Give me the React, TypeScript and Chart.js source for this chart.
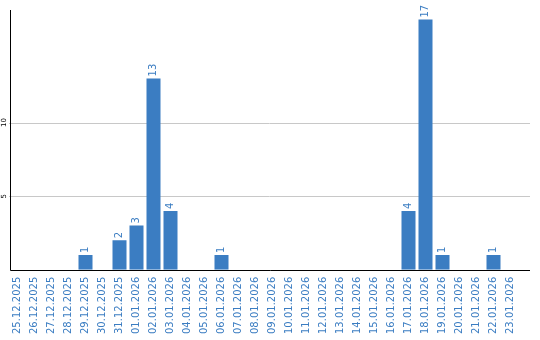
import React, { useEffect, useRef } from "react";
import { Chart, registerables } from "chart.js";

Chart.register(...registerables);

const categories = [
  "25.12.2025", "26.12.2025", "27.12.2025", "28.12.2025", "29.12.2025",
  "30.12.2025", "31.12.2025", "01.01.2026", "02.01.2026", "03.01.2026",
  "04.01.2026", "05.01.2026", "06.01.2026", "07.01.2026", "08.01.2026",
  "09.01.2026", "10.01.2026", "11.01.2026", "12.01.2026", "13.01.2026",
  "14.01.2026", "15.01.2026", "16.01.2026", "17.01.2026", "18.01.2026",
  "19.01.2026", "20.01.2026", "21.01.2026", "22.01.2026", "23.01.2026",
];
const counts = [
  0, 0, 0, 0, 1, 0, 2, 3, 13, 4,
  0, 0, 1, 0, 0, 0, 0, 0, 0, 0,
  0, 0, 0, 4, 17, 1, 0, 0, 1, 0,
];
const yTickValues = [5, 10];
const yMax = 17.65;

const BLUE = "#3b7dc2";
const FONT = "DejaVu Sans";

const decorPlugin = {
  id: "decor",
  beforeDatasetsDraw(chart: any) {
    const { ctx, chartArea } = chart;
    const y = chart.scales.y;
    ctx.save();
    ctx.strokeStyle = "#c8c8c8";
    ctx.lineWidth = 1;
    yTickValues.forEach((v) => {
      const py = Math.round(y.getPixelForValue(v)) + 0.5;
      ctx.beginPath();
      ctx.moveTo(chartArea.left, py);
      ctx.lineTo(chartArea.right + 11, py);
      ctx.stroke();
    });
    ctx.restore();
  },
  afterDatasetsDraw(chart: any) {
    const { ctx, chartArea } = chart;
    const y = chart.scales.y;
    ctx.save();
    ctx.strokeStyle = "#000";
    ctx.lineWidth = 1;
    const ax = Math.round(chartArea.left + 1) + 0.5;
    const by = Math.round(chartArea.bottom) + 0.5;
    ctx.beginPath();
    ctx.moveTo(ax, chartArea.top);
    ctx.lineTo(ax, by);
    ctx.lineTo(chartArea.right + 11, by);
    ctx.stroke();
    ctx.fillStyle = "#000";
    ctx.font = `7px ${FONT}`;
    ctx.textAlign = "center";
    ctx.textBaseline = "middle";
    yTickValues.forEach((v) => {
      const py = y.getPixelForValue(v);
      ctx.save();
      ctx.translate(ax - 6, py);
      ctx.rotate(-Math.PI / 2);
      ctx.fillText(String(v), 0, 0);
      ctx.restore();
    });
    const meta = chart.getDatasetMeta(0);
    ctx.fillStyle = BLUE;
    ctx.font = `10px ${FONT}`;
    ctx.textAlign = "left";
    ctx.textBaseline = "middle";
    meta.data.forEach((el: any, i: number) => {
      const v = counts[i];
      if (!v) return;
      ctx.save();
      ctx.translate(el.x, el.y - 2);
      ctx.rotate(-Math.PI / 2);
      ctx.fillText(String(v), 0, 0);
      ctx.restore();
    });
    ctx.restore();
  },
};

export default function App() {
  const ref = useRef<HTMLCanvasElement | null>(null);
  useEffect(() => {
    if (!ref.current) return;
    const chart = new Chart(ref.current, {
      type: "bar",
      data: {
        labels: categories,
        datasets: [
          {
            data: counts,
            backgroundColor: BLUE,
            borderWidth: 0,
            barPercentage: 14 / 17,
            categoryPercentage: 1,
          },
        ],
      },
      options: {
        responsive: false,
        animation: false,
        layout: { padding: { left: 9, top: 10, right: 21, bottom: -1 } },
        plugins: { legend: { display: false }, tooltip: { enabled: false } },
        scales: {
          x: {
            offset: true,
            grid: { display: false, drawTicks: false },
            border: { display: false },
            ticks: {
              autoSkip: false,
              minRotation: 90,
              maxRotation: 90,
              padding: 7,
              color: BLUE,
              font: { family: FONT, size: 10 },
            },
          },
          y: {
            min: 0,
            max: yMax,
            grid: { display: false, drawTicks: false },
            border: { display: false },
            ticks: { display: false },
          },
        },
      },
      plugins: [decorPlugin],
    });
    return () => chart.destroy();
  }, []);
  return (
    <div style={{ position: "absolute", left: 0, top: 0, width: 540, height: 340 }}>
      <canvas ref={ref} width={540} height={340} style={{ display: "block" }} />
    </div>
  );
}
